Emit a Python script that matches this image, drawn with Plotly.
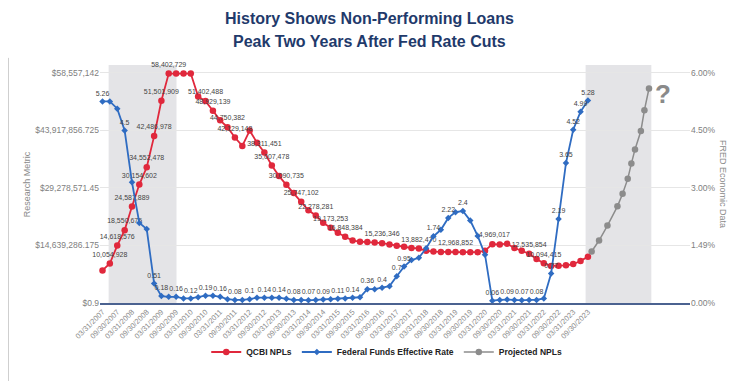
import pandas as pd
import plotly.graph_objects as go

# ---------------- data ----------------
quarter_dates = pd.date_range("2007-03-31", "2023-09-30", freq="QE")  # 67 quarter ends

qcbi_npls = [
    8300000, 10054928, 14618576, 18550675, 24587889, 30154602, 34552478, 42486978,
    51501909, 58402729, 58402729, 58402729, 58402729, 52600000, 51402488, 48929139,
    46500000, 44750382, 42129148, 40000000, 43900000, 40800000, 38311451, 35007478,
    32300000, 30090735, 28000000, 25747102, 23600000, 22278281, 20400000, 19173253,
    17900000, 16848384, 15900000, 15600000, 15500000, 15400000, 15236346, 14900000,
    14600000, 14300000, 14000000, 13882470, 13300000, 13100000, 13000000, 12970000,
    12968852, 12950000, 12950000, 12950000, 13300000, 14969017, 14900000, 15100000,
    14000000, 13300000, 12535854, 11200000, 10094415, 9450000, 9500000, 9600000,
    9900000, 10700000, 11800000,
]
npl_label_idx = [1, 2, 3, 4, 5, 6, 7, 8, 9, 14, 15, 17, 18, 22, 23, 25, 27, 29, 31,
                 33, 38, 43, 48, 53, 58, 60]

fed_funds = [
    5.26, 5.26, 5.07, 4.5, 3.15, 2.09, 1.93, 0.51, 0.18, 0.16, 0.16, 0.12, 0.12, 0.15,
    0.19, 0.19, 0.16, 0.10, 0.08, 0.08, 0.10, 0.14, 0.14, 0.14, 0.14, 0.11, 0.08, 0.08,
    0.07, 0.08, 0.09, 0.10, 0.11, 0.12, 0.14, 0.15, 0.36, 0.36, 0.4, 0.44, 0.7, 0.95,
    1.12, 1.18, 1.43, 1.74, 1.91, 2.22, 2.37, 2.4, 2.15, 1.75, 1.26, 0.06, 0.08, 0.09,
    0.08, 0.07, 0.08, 0.08, 0.12, 0.77, 2.19, 3.65, 4.52, 4.99, 5.28,
]
fed_label_idx = [0, 3, 7, 8, 10, 12, 14, 16, 18, 20, 22, 24, 26, 28, 30, 32, 34, 36,
                 38, 40, 41, 45, 47, 49, 53, 55, 57, 59, 61, 62, 63, 64, 65, 66]

projected_dates = ["2023-11-15", "2024-02-15", "2024-05-29", "2024-09-30", "2024-12-03",
                   "2025-02-05", "2025-03-22", "2025-05-06", "2025-07-18", "2025-08-31",
                   "2025-10-27"]
projected_npls = [13100000, 15900000, 19700000, 24600000, 27800000, 31600000,
                  35500000, 39100000, 43800000, 49100000, 54600000]

shade_periods = [("2007-06-15", "2009-10-05"), ("2023-09-01", "2025-11-25")]

left_tickvals = [0.9, 14639286.175, 29278571.45, 43917856.725, 58557142]
left_ticktext = ["$0.9", "$14,639,286.175", "$29,278,571.45", "$43,917,856.725", "$58,557,142"]
right_tickvals = [0, 1.5, 3.0, 4.5, 6.0]
right_ticktext = ["0.00%", "1.49%", "3.00%", "4.50%", "6.00%"]

tick_dates = [d for d in quarter_dates if d.month in (3, 9)]
tick_text = [d.strftime("%m/%d/%Y") for d in tick_dates]

title_lines = ["History Shows Non-Performing Loans", "Peak Two Years After Fed Rate Cuts"]

# ---------------- styling ----------------
RED = "#e0283c"
BLUE = "#2f6cc2"
GRAY = "#8c8c8c"
FONT = "Liberation Sans, Arial, sans-serif"
W, H = 731, 373          # page body adds an 8px offset
ML, MT, PW, PH = 92, 57, 590, 238

npl_text = [f"{v:,.0f}" if i in npl_label_idx else "" for i, v in enumerate(qcbi_npls)]
fed_text = [f"{v:g}" if i in fed_label_idx else "" for i, v in enumerate(fed_funds)]

fig = go.Figure()

fig.add_trace(go.Scatter(
    x=quarter_dates, y=qcbi_npls, name="QCBI NPLs", mode="lines+markers+text",
    line=dict(color=RED, width=1.8), marker=dict(color=RED, size=6.5),
    text=npl_text, textposition="top center",
    textfont=dict(size=7, color="#444444", family=FONT), cliponaxis=False,
))
fig.add_trace(go.Scatter(
    x=quarter_dates, y=fed_funds, name="Federal Funds Effective Rate", yaxis="y2",
    mode="lines+markers+text",
    line=dict(color=BLUE, width=1.8), marker=dict(color=BLUE, size=5, symbol="diamond"),
    text=fed_text, textposition="top center",
    textfont=dict(size=7, color="#444444", family=FONT), cliponaxis=False,
))
fig.add_trace(go.Scatter(
    x=projected_dates, y=projected_npls, name="Projected NPLs", mode="lines+markers",
    line=dict(color=GRAY, width=1.5), marker=dict(color=GRAY, size=6.5), cliponaxis=False,
))

shapes = [
    dict(type="rect", xref="x", yref="paper", x0=a, x1=b, y0=0, y1=1,
         fillcolor="#e4e4e7", line=dict(width=0), layer="below")
    for a, b in shade_periods
]
fx = (0.5 - ML) / PW
shapes.append(dict(type="line", xref="paper", yref="paper", x0=fx, x1=fx,
                   y0=-0.36, y1=1.03, line=dict(color="#cfcfcf", width=1)))

annotations = [
    dict(text=title_lines[0], xref="paper", yref="paper", x=0.4576, y=1 + (65 - 18) / PH,
         yanchor="middle", showarrow=False,
         font=dict(size=16, color="#1f3a6b", family=FONT, weight="bold")),
    dict(text=title_lines[1], xref="paper", yref="paper", x=0.4576, y=1 + (65 - 42) / PH,
         yanchor="middle", showarrow=False,
         font=dict(size=16, color="#1f3a6b", family=FONT, weight="bold")),
    dict(text="Research Metric", xref="paper", yref="paper", x=-0.135, y=0.5,
         textangle=-90, showarrow=False, font=dict(size=9, color="#8a8a8a")),
    dict(text="FRED Economic Data", xref="paper", yref="paper", x=1.068, y=0.5,
         textangle=90, showarrow=False, font=dict(size=9, color="#8a8a8a")),
    dict(text="?", xref="x", yref="paper", x="2026-04-15", y=0.95,
         showarrow=False, font=dict(size=26, color="#8a8a8a", family=FONT, weight="bold")),
]

fig.update_layout(
    width=W, height=H,
    margin=dict(l=ML, r=W - ML - PW, t=MT, b=H - MT - PH, autoexpand=False),
    paper_bgcolor="white", plot_bgcolor="white",
    font=dict(family=FONT, color="#7a7a7a", size=8.5),
    showlegend=True,
    legend=dict(orientation="h", x=0.486, xanchor="center", y=-(352 - 303) / PH,
                yanchor="middle",
                font=dict(size=8.5, color="#222222", family=FONT, weight="bold"),
                itemwidth=30, bgcolor="rgba(0,0,0,0)"),
    xaxis=dict(
        type="date", range=["2007-02-28", "2027-03-20"], automargin=False,
        tickmode="array", tickvals=tick_dates, ticktext=tick_text, tickangle=-45,
        tickfont=dict(size=7.5, color="#8a8a8a"), showgrid=False, zeroline=False,
        showline=True, linecolor="#4b6290", linewidth=1.5, ticks="",
    ),
    yaxis=dict(
        range=[0.9, 60590000], tickmode="array", tickvals=left_tickvals, automargin=False,
        ticktext=left_ticktext, showgrid=True, gridcolor="#e6e6e6", gridwidth=1,
        zeroline=False, tickfont=dict(size=8.5, color="#808080"), ticks="",
    ),
    yaxis2=dict(
        overlaying="y", side="right", range=[0, 6.209], tickmode="array", automargin=False,
        tickvals=right_tickvals, ticktext=right_ticktext, showgrid=False,
        zeroline=False, tickfont=dict(size=8.5, color="#808080"), ticks="",
    ),
    shapes=shapes,
    annotations=annotations,
)

fig.write_html("out.html")
